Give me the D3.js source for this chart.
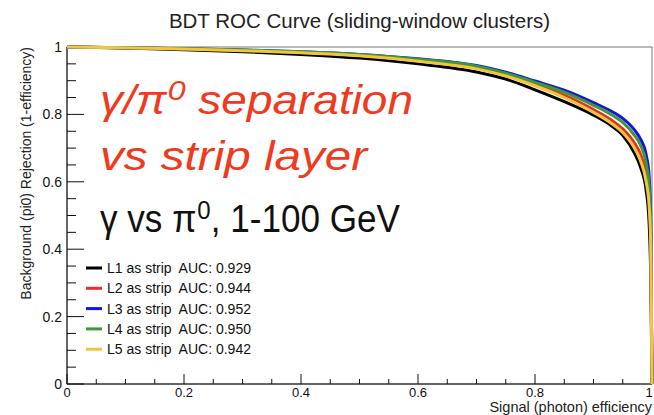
<!DOCTYPE html>
<html>
<head>
<meta charset="utf-8">
<script src="https://cdn.jsdelivr.net/npm/d3@7"></script>
<style>
  html, body { margin: 0; padding: 0; background: #fff; }
  svg { display: block; font-family: "Liberation Sans", Arial, Helvetica, sans-serif; }
  text { white-space: pre; }
</style>
</head>
<body>
<svg id="chart" width="654" height="415"></svg>
<script>
(function () {
    'use strict';

    // signal efficiency grid shared by all curves
    var signalEff = [0, 0.1, 0.2, 0.3, 0.4, 0.5, 0.6, 0.7, 0.75, 0.8, 0.85, 0.9, 0.93, 0.95, 0.97, 0.98, 0.99, 0.995, 0.998, 1.0];

    // background rejection per strip layer
    var rejL1 = [1.000, 0.997, 0.992, 0.986, 0.978, 0.967, 0.950, 0.926, 0.905, 0.873, 0.838, 0.798, 0.767, 0.738, 0.685, 0.645, 0.575, 0.480, 0.300, 0.000];
    var rejL2 = [1.000, 0.998, 0.994, 0.990, 0.984, 0.975, 0.960, 0.938, 0.917, 0.889, 0.857, 0.814, 0.784, 0.757, 0.715, 0.683, 0.625, 0.560, 0.420, 0.000];
    var rejL3 = [1.000, 0.998, 0.995, 0.991, 0.986, 0.978, 0.965, 0.945, 0.925, 0.899, 0.872, 0.835, 0.810, 0.788, 0.754, 0.728, 0.680, 0.620, 0.480, 0.000];
    var rejL4 = [1.000, 0.998, 0.995, 0.991, 0.986, 0.978, 0.964, 0.943, 0.922, 0.895, 0.866, 0.827, 0.800, 0.776, 0.738, 0.710, 0.655, 0.590, 0.450, 0.000];
    var rejL5 = [1.000, 0.998, 0.994, 0.989, 0.983, 0.974, 0.958, 0.935, 0.914, 0.885, 0.850, 0.806, 0.774, 0.746, 0.700, 0.664, 0.600, 0.530, 0.400, 0.000];

    var seriesNames = ['L1 as strip', 'L2 as strip', 'L3 as strip', 'L4 as strip', 'L5 as strip'];
    var aucValues = ['0.929', '0.944', '0.952', '0.950', '0.942'];
    var seriesColors = ['#000000', '#e2302a', '#1414e6', '#3c9a34', '#f3c53c'];
    var seriesValues = [rejL1, rejL2, rejL3, rejL4, rejL5];

    var xTicks = [0, 0.2, 0.4, 0.6, 0.8, 1];
    var yTicks = [0, 0.2, 0.4, 0.6, 0.8, 1];

    var frame = { left: 67, right: 652, top: 47, bottom: 384 };

    var svg = d3.select('#chart');

    var x = d3.scaleLinear().domain([0, 1]).range([frame.left, frame.right]);
    var y = d3.scaleLinear().domain([0, 1]).range([frame.bottom, frame.top]);

    // frame box
    svg.append('rect')
        .attr('x', frame.left)
        .attr('y', frame.top)
        .attr('width', frame.right - frame.left)
        .attr('height', frame.bottom - frame.top)
        .attr('fill', 'none')
        .attr('stroke', '#777')
        .attr('stroke-width', 1);

    // title
    svg.append('text')
        .attr('x', (frame.left + frame.right) / 2)
        .attr('y', 28)
        .attr('text-anchor', 'middle')
        .attr('font-size', 20.5)
        .attr('fill', '#222')
        .text('BDT ROC Curve (sliding-window clusters)');

    // x axis, ticks drawn inward
    var xMinor = d3.range(0, 1.0001, 0.05);
    var gx = svg.append('g');
    gx.selectAll('line.minor').data(xMinor).enter().append('line')
        .attr('x1', function (d) { return x(d); })
        .attr('x2', function (d) { return x(d); })
        .attr('y1', frame.bottom)
        .attr('y2', function (d, i) { return frame.bottom - (i % 4 === 0 ? 10 : 5); })
        .attr('stroke', '#111');
    gx.selectAll('text').data(xTicks).enter().append('text')
        .attr('x', function (d) { return Math.min(x(d), 649); })
        .attr('y', 397)
        .attr('text-anchor', 'middle')
        .attr('font-size', 13)
        .attr('fill', '#111')
        .text(function (d) { return d3.format('')(d); });
    gx.append('line')
        .attr('x1', frame.left).attr('x2', frame.right)
        .attr('y1', frame.bottom).attr('y2', frame.bottom)
        .attr('stroke', '#111');

    svg.append('text')
        .attr('x', frame.right)
        .attr('y', 412)
        .attr('text-anchor', 'end')
        .attr('font-size', 14.5)
        .attr('fill', '#222')
        .text('Signal (photon) efficiency');

    // y axis
    var yMinor = d3.range(0, 1.0001, 0.05);
    var gy = svg.append('g');
    gy.selectAll('line.minor').data(yMinor).enter().append('line')
        .attr('y1', function (d) { return y(d); })
        .attr('y2', function (d) { return y(d); })
        .attr('x1', frame.left)
        .attr('x2', function (d, i) { return frame.left + (i % 4 === 0 ? 17 : 9); })
        .attr('stroke', '#111');
    gy.selectAll('text').data(yTicks).enter().append('text')
        .attr('x', 62)
        .attr('y', function (d) { return y(d) + 5; })
        .attr('text-anchor', 'end')
        .attr('font-size', 14)
        .attr('fill', '#111')
        .text(function (d) { return d3.format('')(d); });
    gy.append('line')
        .attr('x1', frame.left).attr('x2', frame.left)
        .attr('y1', frame.top).attr('y2', frame.bottom)
        .attr('stroke', '#111');

    svg.append('text')
        .attr('transform', 'translate(31,' + frame.top + ') rotate(-90)')
        .attr('text-anchor', 'end')
        .attr('font-size', 14)
        .attr('fill', '#222')
        .text('Background (pi0) Rejection (1-efficiency)');

    // ROC curves
    var line = d3.line()
        .x(function (d) { return x(d[0]); })
        .y(function (d) { return y(d[1]); })
        .curve(d3.curveMonotoneX);

    seriesValues.forEach(function (vals, i) {
        var pts = signalEff.map(function (e, j) { return [e, vals[j]]; });
        svg.append('path')
            .attr('d', line(pts))
            .attr('fill', 'none')
            .attr('stroke', seriesColors[i])
            .attr('stroke-width', 3)
            .attr('stroke-linejoin', 'round');
    });

    // big annotations
    svg.append('text')
        .attr('x', 100).attr('y', 114)
        .attr('font-size', 40)
        .attr('font-style', 'italic')
        .attr('fill', '#f03a1e')
        .attr('textLength', 313)
        .attr('lengthAdjust', 'spacingAndGlyphs')
        .html('γ/π<tspan dx="1" dy="-14" font-size="28">0</tspan><tspan dy="14"> separation</tspan>');
    svg.append('text')
        .attr('x', 100).attr('y', 170)
        .attr('font-size', 40)
        .attr('font-style', 'italic')
        .attr('fill', '#f03a1e')
        .attr('textLength', 267)
        .attr('lengthAdjust', 'spacingAndGlyphs')
        .text('vs strip layer');
    svg.append('text')
        .attr('x', 100).attr('y', 232)
        .attr('font-size', 38)
        .attr('fill', '#111')
        .attr('textLength', 300)
        .attr('lengthAdjust', 'spacingAndGlyphs')
        .html('γ vs π<tspan dx="1" dy="-13" font-size="26">0</tspan><tspan dy="13">, 1-100 GeV</tspan>');

    // legend
    var legend = svg.append('g');
    seriesNames.forEach(function (name, i) {
        var ly = 268 + i * 20.3;
        legend.append('line')
            .attr('x1', 86).attr('x2', 102)
            .attr('y1', ly).attr('y2', ly)
            .attr('stroke', seriesColors[i])
            .attr('stroke-width', 3);
        legend.append('text')
            .attr('x', 107)
            .attr('y', ly + 5)
            .attr('font-size', 14)
            .attr('fill', '#111')
            .text(name + '  AUC: ' + aucValues[i]);
    });
}());
</script>
</body>
</html>
